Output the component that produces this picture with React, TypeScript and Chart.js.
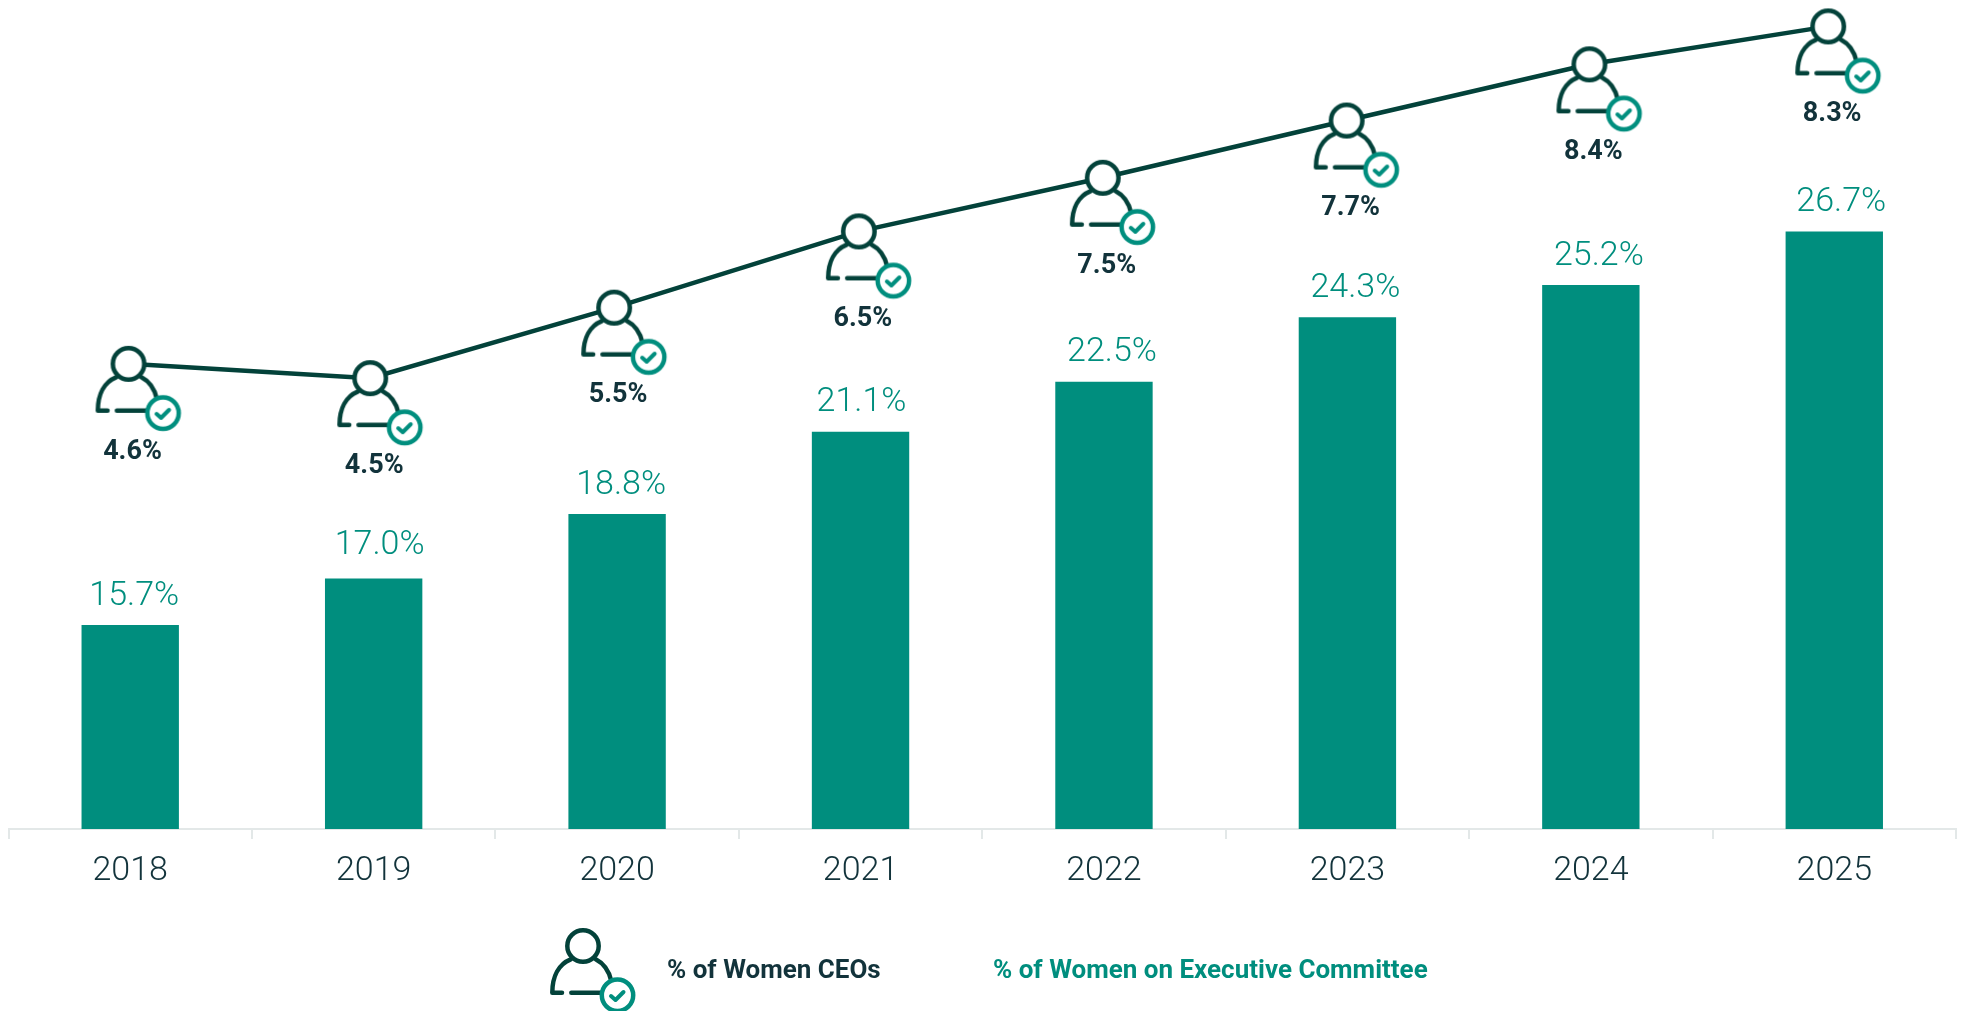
import React, { useEffect, useRef } from "react";
import { Chart, registerables } from "chart.js";

Chart.register(...registerables);

const years = ["2018", "2019", "2020", "2021", "2022", "2023", "2024", "2025"];
const execCommitteeShare = [15.7, 17.0, 18.8, 21.1, 22.5, 24.3, 25.2, 26.7];
const ceoShareLabels = [4.6, 4.5, 5.5, 6.5, 7.5, 7.7, 8.4, 8.3];
// The reference's line is not proportional to its own labels: heights, on the bar axis.
const ceoLineHeights = [23.0, 22.6, 24.57, 26.7, 28.2, 29.8, 31.37, 32.43];
// Fractional category positions of the line's points (they sit slightly left of the bar centres).
const ceoLineSlots = [-0.007, 0.986, 1.988, 2.993, 3.995, 4.997, 5.994, 6.975];
const legendCeo = "% of Women CEOs";
const legendExec = "% of Women on Executive Committee";

const TEAL = "#008e7e";
const DARK = "#03423a";
const INK = "#12333b";
const BODY_FONT = "Roboto";

function makeIcon(): HTMLCanvasElement {
  const c = document.createElement("canvas");
  c.width = 150;
  c.height = 150;
  const g = c.getContext("2d")!;
  g.translate(75, 75);
  g.lineCap = "round";
  g.lineJoin = "round";
  g.lineWidth = 4.5;
  g.strokeStyle = DARK;
  g.beginPath();
  g.moveTo(-12.3, 13.3);
  g.bezierCurveTo(-24, 18, -30.7, 30, -30.7, 46.7);
  g.lineTo(-21, 46.7);
  g.moveTo(-11.7, 46.7);
  g.lineTo(18, 46.7);
  g.moveTo(12.7, 13.3);
  g.bezierCurveTo(20, 17, 26, 25, 28.3, 35);
  g.stroke();
  g.beginPath();
  g.arc(0, 0, 15.7, 0, Math.PI * 2);
  g.fillStyle = "#ffffff";
  g.fill();
  g.stroke();
  g.beginPath();
  g.arc(34.5, 49.3, 15.7, 0, Math.PI * 2);
  g.fillStyle = "#ffffff";
  g.fill();
  g.strokeStyle = TEAL;
  g.stroke();
  g.beginPath();
  g.moveTo(28, 50);
  g.lineTo(32.5, 54);
  g.lineTo(40.5, 46);
  g.strokeStyle = TEAL;
  g.lineWidth = 4;
  g.stroke();
  return c;
}

const barLabelNudge = [4, 6, 4, 1, 8, 8, 8, 7];
const barLabelLift = [29, 33, 29, 29, 29, 29, 29, 29];

const annotate = (icon: HTMLCanvasElement) => ({
  id: "annotate",
  afterDatasetsDraw(chart: any) {
    const ctx = chart.ctx;
    ctx.save();
    ctx.textAlign = "center";
    ctx.textBaseline = "middle";
    const lineMeta = chart.getDatasetMeta(0);
    const barMeta = chart.getDatasetMeta(1);
    ctx.font = `300 34px ${BODY_FONT}`;
    ctx.fillStyle = TEAL;
    barMeta.data.forEach((b: any, i: number) => {
      ctx.fillText(execCommitteeShare[i].toFixed(1) + "%", b.x + barLabelNudge[i], b.y - barLabelLift[i]);
    });
    ctx.font = `700 27px ${BODY_FONT}`;
    ctx.fillStyle = INK;
    lineMeta.data.forEach((p: any, i: number) => {
      ctx.fillText(ceoShareLabels[i].toFixed(1) + "%", p.x + 4, p.y + 88);
    });
    // legend
    ctx.drawImage(icon, 583 - 75, 946 - 75);
    ctx.textAlign = "left";
    ctx.font = `700 26px ${BODY_FONT}`;
    ctx.fillStyle = INK;
    ctx.fillText(legendCeo, 667, 971);
    ctx.fillStyle = TEAL;
    ctx.fillText(legendExec, 993, 971);
    ctx.restore();
  },
});

export default function App() {
  const ref = useRef<HTMLCanvasElement>(null);
  useEffect(() => {
    const icon = makeIcon();
    const chart = new Chart(ref.current!, {
      type: "bar",
      data: {
        labels: years,
        datasets: [
          {
            type: "line",
            label: legendCeo,
            data: ceoLineHeights.map((y, i) => ({ x: ceoLineSlots[i], y })),
            parsing: false,
            borderColor: DARK,
            borderWidth: 4.5,
            pointStyle: icon,
            tension: 0,
            order: 0,
            clip: false,
          } as any,
          {
            type: "bar",
            label: legendExec,
            data: execCommitteeShare,
            backgroundColor: TEAL,
            categoryPercentage: 1,
            barPercentage: 0.4,
            order: 1,
          },
        ],
      },
      options: {
        responsive: false,
        animation: false,
        devicePixelRatio: 1,
        layout: { padding: { left: 8, right: 10, top: 0, bottom: 0 } },
        plugins: { legend: { display: false }, tooltip: { enabled: false } },
        scales: {
          x: {
            type: "category",
            afterFit(scale: any) {
              scale.height = 182;
            },
            border: { color: "#e3e8e8", width: 2 },
            grid: { drawOnChartArea: false, color: "#e3e8e8", lineWidth: 2, tickLength: 10, offset: true },
            ticks: {
              color: INK,
              font: { family: BODY_FONT, size: 34, weight: "300" },
              padding: 12,
              maxRotation: 0,
            },
          },
          y: { type: "linear", display: false, min: 10, max: 32.93 },
        },
      } as any,
      plugins: [annotate(icon)],
    });
    return () => chart.destroy();
  }, []);
  return (
    <canvas
      ref={ref}
      width={1966}
      height={1011}
      style={{ position: "absolute", left: 0, top: 0, display: "block" }}
    />
  );
}
